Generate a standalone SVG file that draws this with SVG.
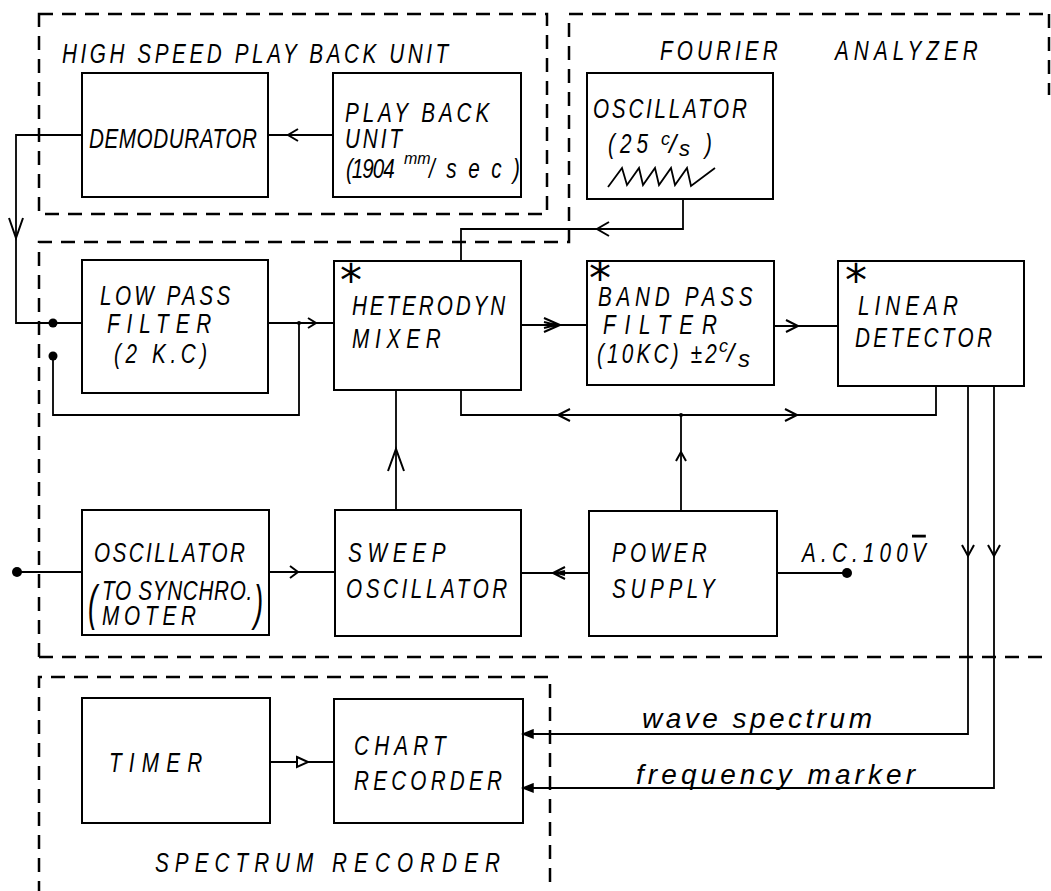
<svg xmlns="http://www.w3.org/2000/svg" width="1051" height="891" viewBox="0 0 1051 891">
<style>
.box{fill:none;stroke:#000;stroke-width:2}
.dash{fill:none;stroke:#000;stroke-width:2.5;stroke-dasharray:14 9}
.wire{fill:none;stroke:#000;stroke-width:1.8}
.arr{fill:none;stroke:#000;stroke-width:2;stroke-linejoin:miter}
.dot{fill:#000}
.t{font-family:"Liberation Sans","DejaVu Sans",sans-serif;font-style:italic;font-size:28px;fill:#000}
.sm{font-family:"Liberation Sans","DejaVu Sans",sans-serif;font-style:italic;font-size:16px;fill:#000}
.ast{font-family:"DejaVu Sans",sans-serif;font-size:44px;fill:#000}
.lc{font-family:"Liberation Sans","DejaVu Sans",sans-serif;font-style:italic;font-size:28px;fill:#000}
</style>
<rect width="1051" height="891" fill="#fff"/>

<g id="regions">
  <rect id="hspu" class="dash" x="39" y="14" width="508" height="200"/>
  <path id="fourier" class="dash" d="M39,657 L39,242 L569,242 L569,14 L1051,14 M1049,14 L1049,95 M39,657 L1051,657"/>
  <path id="spectrum" class="dash" d="M39,895 L39,677 L550,677 L550,895"/>
  <text class="t" transform="translate(62,63) scale(0.74,1)" textLength="522" lengthAdjust="spacing">HIGH SPEED PLAY BACK UNIT</text>
  <text class="t" transform="translate(660,60) scale(0.74,1)" textLength="159" lengthAdjust="spacing">FOURIER</text>
  <text class="t" transform="translate(835,60) scale(0.74,1)" textLength="193" lengthAdjust="spacing">ANALYZER</text>
  <text class="t" transform="translate(155,872) scale(0.74,1)" textLength="214" lengthAdjust="spacing">SPECTRUM</text>
  <text class="t" transform="translate(332,872) scale(0.74,1)" textLength="227" lengthAdjust="spacing">RECORDER</text>
</g>

<g id="connectors">
  <path class="wire" d="M82,135 L16,135 L16,323 L82,323"/>
  <path class="wire" d="M333,135 L268,135"/>
  <path class="wire" d="M683,199 L683,229 L461,229 L461,261"/>
  <path class="wire" d="M268,323 L334,323"/>
  <path class="wire" d="M53,356 L53,415 L299,415 L299,323"/>
  <path class="wire" d="M521,325 L587,325"/>
  <path class="wire" d="M774,326 L838,326"/>
  <path class="wire" d="M461,390 L461,415 L936,415 L936,386"/>
  <path class="wire" d="M681,415 L681,511"/>
  <path class="wire" d="M396,510 L396,390"/>
  <path class="wire" d="M17,572 L82,572 M269,572 L335,572"/>
  <path class="wire" d="M589,573 L521,573"/>
  <path class="wire" d="M777,573 L847,573"/>
  <path class="wire" d="M968,386 L968,734 L523,734"/>
  <path class="wire" d="M994,386 L994,788 L523,788"/>
  <path class="wire" d="M270,762 L334,762"/>
  <path class="arr" d="M298,129 L288,135 L298,141"/>
  <path class="arr" d="M9,218 L16,238 L23,218"/>
  <path class="arr" d="M609,222 L597,229 L609,236"/>
  <path class="arr" d="M308,318 L316,323 L308,328"/>
  <path class="arr" d="M544,318 L560,325 L544,332 M544,322 L556,325 L544,328"/>
  <path class="arr" d="M786,320 L798,326 L786,332"/>
  <path class="arr" d="M570,409 L558,415 L570,421"/>
  <path class="arr" d="M785,409 L797,415 L785,421"/>
  <path class="arr" d="M676,461 L681,452 L686,461"/>
  <path class="arr" d="M388,471 L396,449 L404,471"/>
  <path class="arr" d="M290,566 L298,572 L290,578"/>
  <path class="arr" d="M565,567 L553,573 L565,579 M565,571 L557,573 L565,575"/>
  <path class="arr" d="M962,545 L968,556 L974,545"/>
  <path class="arr" d="M988,545 L994,556 L1000,545"/>
  <path d="M297,757 L308,762 L297,767 Z" fill="#fff" stroke="#000" stroke-width="2"/>
  <path d="M533,730 L523,734 L533,738 Z" fill="#000" stroke="#000" stroke-width="1.5"/>
  <path d="M533,784 L523,788 L533,792 Z" fill="#000" stroke="#000" stroke-width="1.5"/>
  <circle class="dot" cx="53" cy="323" r="4.5"/>
  <circle class="dot" cx="53" cy="356" r="4.5"/>
  <circle class="dot" cx="299" cy="323" r="2"/>
  <circle class="dot" cx="681" cy="415" r="2"/>
  <circle class="dot" cx="17" cy="572" r="5"/>
  <circle class="dot" cx="847" cy="573" r="5"/>
  <text class="lc" x="642" y="728" textLength="230" lengthAdjust="spacing">wave spectrum</text>
  <text class="lc" x="636" y="784" textLength="279" lengthAdjust="spacing">frequency marker</text>
</g>

<g id="demodurator">
  <rect class="box" x="82" y="73" width="186" height="124"/>
  <text class="t" transform="translate(89,148) scale(0.74,1)" textLength="227" lengthAdjust="spacing">DEMODURATOR</text>
</g>
<g id="playback">
  <rect class="box" x="333" y="73" width="188" height="124"/>
  <text class="t" transform="translate(345,122) scale(0.74,1)" textLength="195" lengthAdjust="spacing">PLAY BACK</text>
  <text class="t" transform="translate(345,148) scale(0.74,1)" textLength="77" lengthAdjust="spacing">UNIT</text>
  <text class="t" transform="translate(346,178) scale(0.74,1)" textLength="66" lengthAdjust="spacing">(1904</text>
  <text class="sm" x="404" y="164">mm</text>
  <text class="t" transform="translate(429,178) scale(0.74,1)" textLength="123" lengthAdjust="spacing">/sec)</text>
</g>
<g id="osc25">
  <rect class="box" x="587" y="73" width="186" height="126"/>
  <text class="t" transform="translate(593,118) scale(0.74,1)" textLength="208" lengthAdjust="spacing">OSCILLATOR</text>
  <text class="t" transform="translate(608,153) scale(0.74,1)" textLength="54" lengthAdjust="spacing">(25</text>
  <text class="sm" x="661" y="145" style="font-size:18px">c</text>
  <text class="t" x="669" y="153" style="font-size:26px">/</text>
  <text class="sm" x="679" y="156" style="font-size:22px">s</text>
  <text class="t" transform="translate(705,153) scale(0.74,1)">)</text>
  <path class="wire" d="M608,187 L622,168 L627,185 L639,168 L643,185 L655,168 L659,185 L671,168 L675,185 L687,168 L691,186 L715,168"/>
</g>
<g id="lowpass">
  <rect class="box" x="82" y="260" width="186" height="133"/>
  <text class="t" transform="translate(100,305) scale(0.74,1)" textLength="176" lengthAdjust="spacing">LOW PASS</text>
  <text class="t" transform="translate(107,333) scale(0.74,1)" textLength="141" lengthAdjust="spacing">FILTER</text>
  <text class="t" transform="translate(114,363) scale(0.74,1)" textLength="126" lengthAdjust="spacing">(2 K.C)</text>
</g>
<g id="heterodyn">
  <rect class="box" x="334" y="261" width="187" height="129"/>
  <text class="ast" x="340" y="296">*</text>
  <text class="t" transform="translate(352,315) scale(0.74,1)" textLength="207" lengthAdjust="spacing">HETERODYN</text>
  <text class="t" transform="translate(352,348) scale(0.74,1)" textLength="120" lengthAdjust="spacing">MIXER</text>
</g>
<g id="bandpass">
  <rect class="box" x="587" y="261" width="187" height="124"/>
  <text class="ast" x="589" y="294">*</text>
  <text class="t" transform="translate(598,306) scale(0.74,1)" textLength="209" lengthAdjust="spacing">BAND PASS</text>
  <text class="t" transform="translate(603,334) scale(0.74,1)" textLength="154" lengthAdjust="spacing">FILTER</text>
  <text class="t" transform="translate(597,363) scale(0.74,1)" textLength="162" lengthAdjust="spacing">(10KC) ±2</text>
  <text class="sm" x="719" y="352" style="font-size:18px">c</text>
  <text class="t" x="727" y="362" style="font-size:26px">/</text>
  <text class="sm" x="738" y="367" style="font-size:24px">s</text>
</g>
<g id="detector">
  <rect class="box" x="838" y="261" width="186" height="125"/>
  <text class="ast" x="845" y="296">*</text>
  <text class="t" transform="translate(858,315) scale(0.74,1)" textLength="135" lengthAdjust="spacing">LINEAR</text>
  <text class="t" transform="translate(855,347) scale(0.74,1)" textLength="185" lengthAdjust="spacing">DETECTOR</text>
</g>
<g id="oscsync">
  <rect class="box" x="82" y="510" width="187" height="125"/>
  <text class="t" transform="translate(94,562) scale(0.74,1)" textLength="204" lengthAdjust="spacing">OSCILLATOR</text>
  <text class="t" transform="translate(88,620) scale(0.55,1)" style="font-size:50px">(</text>
  <text class="t" transform="translate(102,600) scale(0.74,1)" textLength="203" lengthAdjust="spacing">TO SYNCHRO.</text>
  <text class="t" transform="translate(102,625) scale(0.74,1)" textLength="127" lengthAdjust="spacing">MOTER</text>
  <text class="t" transform="translate(254,620) scale(0.55,1)" style="font-size:50px">)</text>
</g>
<g id="sweep">
  <rect class="box" x="335" y="510" width="186" height="126"/>
  <text class="t" transform="translate(348,562) scale(0.74,1)" textLength="132" lengthAdjust="spacing">SWEEP</text>
  <text class="t" transform="translate(346,598) scale(0.74,1)" textLength="218" lengthAdjust="spacing">OSCILLATOR</text>
</g>
<g id="power">
  <rect class="box" x="589" y="511" width="188" height="125"/>
  <text class="t" transform="translate(612,562) scale(0.74,1)" textLength="128" lengthAdjust="spacing">POWER</text>
  <text class="t" transform="translate(612,598) scale(0.74,1)" textLength="139" lengthAdjust="spacing">SUPPLY</text>
</g>
<g id="ac">
  <text class="t" transform="translate(802,562) scale(0.74,1)" textLength="143" lengthAdjust="spacing">A.C.100</text>
  <text class="t" transform="translate(912,562) scale(0.74,1)" text-decoration="overline">V</text>
</g>
<g id="timer">
  <rect class="box" x="82" y="698" width="188" height="125"/>
  <text class="t" transform="translate(109,772) scale(0.74,1)" textLength="126" lengthAdjust="spacing">TIMER</text>
</g>
<g id="chart">
  <rect class="box" x="334" y="699" width="189" height="124"/>
  <text class="t" transform="translate(354,755) scale(0.74,1)" textLength="124" lengthAdjust="spacing">CHART</text>
  <text class="t" transform="translate(354,790) scale(0.74,1)" textLength="200" lengthAdjust="spacing">RECORDER</text>
</g>
</svg>
